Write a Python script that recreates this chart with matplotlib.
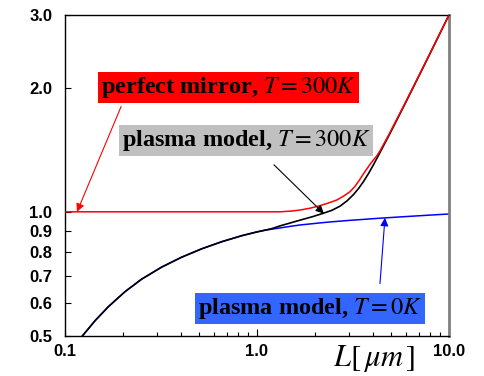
import matplotlib
matplotlib.use("Agg")
import matplotlib.pyplot as plt
from matplotlib.ticker import FixedLocator, FixedFormatter, NullFormatter, LogLocator

plt.rcParams['mathtext.fontset'] = 'stix'

# ---- data ----
L_red = [0.1, 0.5, 1.0, 1.318, 1.5, 1.675, 1.9, 2.128, 2.35, 2.601, 2.83, 3.051, 3.25, 3.44, 3.65, 3.877,
         4.034, 4.2, 4.37, 4.85, 5.341, 5.9, 6.516, 7.2, 7.962, 8.8, 9.73, 10.0]
R_red = [1.0, 1.0, 1.0, 1.0, 1.004, 1.010, 1.021, 1.035, 1.050, 1.068, 1.092, 1.119, 1.155, 1.200, 1.252, 1.303,
         1.335, 1.365, 1.405, 1.535, 1.675, 1.833, 2.010, 2.205, 2.422, 2.661, 2.926, 3.0]

L_black = [0.1231, 0.1433, 0.1681, 0.2054, 0.2508, 0.3189, 0.4053, 0.515, 0.655, 0.832, 1.0, 1.101, 1.2,
           1.318, 1.5, 1.675, 1.95, 2.214, 2.45, 2.706, 2.95, 3.174, 3.38, 3.578, 3.8, 4.034, 4.2, 4.37, 4.85,
           5.341, 5.9, 6.516, 7.2, 7.962, 8.8, 9.73, 10.0]
R_black = [0.5, 0.5444, 0.5887, 0.6404, 0.6868, 0.7346, 0.7763, 0.8134, 0.8463, 0.8751, 0.894, 0.9025, 0.911,
           0.9245, 0.9405, 0.9545, 0.9735, 0.992, 1.008, 1.032, 1.064, 1.100, 1.139, 1.182, 1.236, 1.298, 1.345,
           1.392, 1.527, 1.667, 1.827, 2.004, 2.200, 2.418, 2.658, 2.924, 3.0]

L_blue = [0.1231, 0.1433, 0.1681, 0.2054, 0.2508, 0.3189, 0.4053, 0.515, 0.655, 0.832, 1.0, 1.101,
          1.2, 1.318, 1.49, 1.67, 2.13, 2.4, 3.0, 4.37, 6.0, 8.0, 10.0]
R_blue = [0.5, 0.5444, 0.5887, 0.6404, 0.6868, 0.7346, 0.7763, 0.8134, 0.8463, 0.8751, 0.894, 0.9025,
          0.908, 0.914, 0.922, 0.929, 0.940, 0.945, 0.953, 0.965, 0.974, 0.982, 0.988]

y_ticks = [0.5, 0.6, 0.7, 0.8, 0.9, 1.0, 2.0, 3.0]
y_labels = ['0.5', '0.6', '0.7', '0.8', '0.9', '1.0', '2.0', '3.0']
x_ticks = [0.1, 1.0, 10.0]
x_labels = ['0.1', '1.0', '10.0']

label_red = r'perfect mirror, $T=300K$'
label_black = r'plasma model, $T=300K$'
label_blue = r'plasma model, $T=0K$'
x_title = r'$L[\,\mu m\,]$'

# ---- figure ----
fig = plt.figure(figsize=(4.84, 3.76), dpi=100)
ax = fig.add_axes([65/484, 40/376, 384/484, 321/376])
ax.set_xscale('log')
ax.set_yscale('log')
ax.set_xlim(0.1, 10.0)
ax.set_ylim(0.5, 3.0)

ax.plot(L_blue, R_blue, color='#0000ff', lw=1.1, zorder=2)
ax.plot(L_black, R_black, color='black', lw=1.2, zorder=3)
ax.plot(L_red, R_red, color='#ff0000', lw=1.1, zorder=4)

ax.yaxis.set_major_locator(FixedLocator(y_ticks))
ax.yaxis.set_major_formatter(FixedFormatter(y_labels))
ax.yaxis.set_minor_locator(FixedLocator([]))
ax.xaxis.set_major_locator(FixedLocator(x_ticks))
ax.xaxis.set_major_formatter(FixedFormatter(x_labels))
ax.xaxis.set_minor_locator(LogLocator(base=10, subs=range(2, 10)))
ax.xaxis.set_minor_formatter(NullFormatter())

for lab in ax.get_xticklabels() + ax.get_yticklabels():
    lab.set_fontfamily('Liberation Sans')
    lab.set_fontweight('bold')
    lab.set_fontsize(12)
ax.tick_params(axis='y', which='major', direction='in', length=4, width=0.8, pad=9)
ax.tick_params(axis='x', which='major', direction='in', length=5, width=0.8, pad=6)
ax.tick_params(axis='x', which='minor', direction='in', length=3, width=0.8)

for s in ['left', 'bottom', 'top']:
    ax.spines[s].set_color('black')
    ax.spines[s].set_linewidth(1.0)
ax.spines['right'].set_color('#808080')
ax.spines['right'].set_linewidth(2.0)

text_kw = dict(fontsize=17.5, fontweight='bold', family='Liberation Serif', ha='left', va='center', zorder=6)
ax.text(0.154, 2.0, label_red, bbox=dict(boxstyle='square,pad=0.12', fc='#ff0000', ec='none'), **text_kw)
ax.text(0.198, 1.49, label_black, bbox=dict(boxstyle='square,pad=0.12', fc='#c0c0c0', ec='none'), **text_kw)
ax.text(0.493, 0.583, label_blue, bbox=dict(boxstyle='square,pad=0.12', fc='#3366ff', ec='none'), **text_kw)

arrow_kw = dict(arrowstyle='-|>', lw=0.8, mutation_scale=12, shrinkA=0, shrinkB=0)
ax.annotate('', xy=(0.1155, 1.0), xytext=(0.196, 1.80), arrowprops=dict(color='#ff0000', **arrow_kw), zorder=7)
ax.annotate('', xy=(2.23, 0.99), xytext=(1.226, 1.30), arrowprops=dict(color='black', **arrow_kw), zorder=7)
ax.annotate('', xy=(4.64, 0.967), xytext=(4.37, 0.67), arrowprops=dict(color='#0000ff', **arrow_kw), zorder=7)

fig.text(374/484, 1 - 358/376, x_title, fontsize=22, ha='center', va='center')

fig.savefig('out.png', dpi=100)
